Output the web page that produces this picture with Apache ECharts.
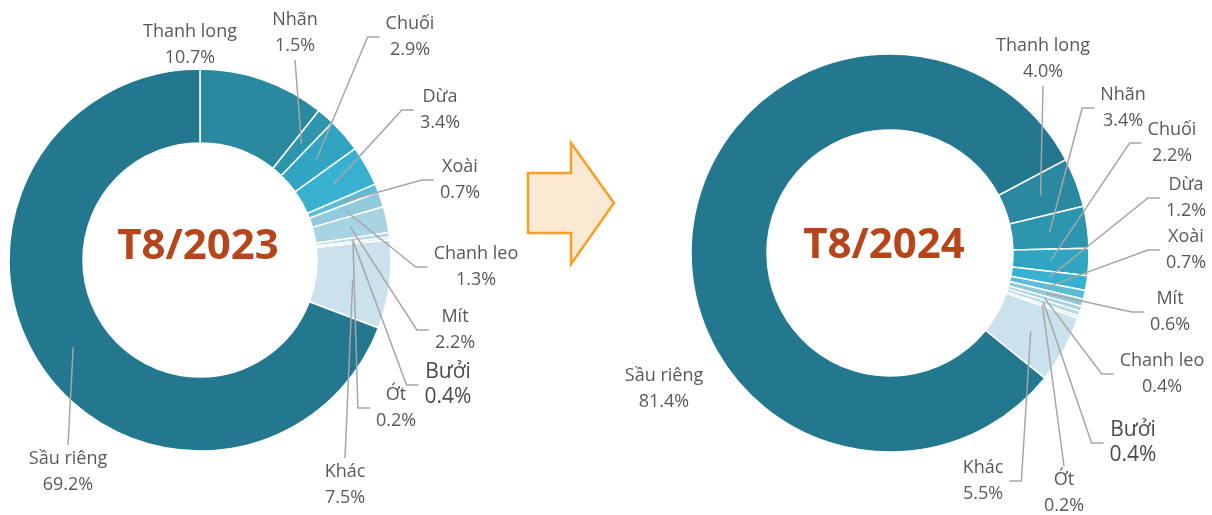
<!DOCTYPE html>
<html>
<head>
<meta charset="utf-8">
<script src="https://cdn.jsdelivr.net/npm/echarts@6/dist/echarts.min.js"></script>
<style>
  html, body { margin: 0; padding: 0; background: #fff; }
  #chart { width: 1212px; height: 515px; }
</style>
</head>
<body>
<div id="chart"></div>
<script>
// share of fruit & vegetable exports by product, Aug 2023 vs Aug 2024 (%)
const names2023 = ['Thanh long', 'Nhãn', 'Chuối', 'Dừa', 'Xoài', 'Chanh leo', 'Mít', 'Bưởi', 'Ớt', 'Khác', 'Sầu riêng'];
const values2023 = [10.7, 1.5, 2.9, 3.4, 0.7, 1.3, 2.2, 0.4, 0.2, 7.5, 69.2];
const names2024 = ['Thanh long', 'Nhãn', 'Chuối', 'Dừa', 'Xoài', 'Mít', 'Chanh leo', 'Bưởi', 'Ớt', 'Khác', 'Sầu riêng'];
const values2024 = [4.0, 3.4, 2.2, 1.2, 0.7, 0.6, 0.4, 0.4, 0.2, 5.5, 81.4];
const titles = ['T8/2023', 'T8/2024'];

const sliceColors = ['#2a88a0', '#2d95ae', '#31a4c2', '#37b1cf', '#5bbcd7', '#93c9dc', '#a8d3e3', '#b6dae7', '#c0dfea', '#cbe2ec', '#237890'];
const FONT = '"Open Sans", "Noto Sans", sans-serif';

// label centres, placed by hand like in the source chart
const labelPos2023 = [[190, 45], [295, 33], [410, 37], [440, 110], [460, 180], [476, 267], [455, 330], [448, 385], [396, 408], [345, 485], [68, 472]];
const labelPos2024 = [[1043, 59], [1123, 108], [1172, 143], [1186, 198], [1186, 250], [1170, 312], [1162, 374], [1133, 443], [1064, 493], [983, 481], [664, 389]];

// leader lines get collected while the labels are laid out
const leaders = [[], []];

function donut(idx, names, values, center, radius, startAngle, labelPos, noLine) {
    const total = values.reduce((a, b) => a + b, 0);
    const data = names.map((name, i) => {
        const item = { name: name, value: values[i], itemStyle: { color: sliceColors[i] } };
        if (name === 'Bưởi') item.label = { fontSize: 21, lineHeight: 25, color: '#4a4a4a' };
        return item;
    });

    return {
        type: 'pie',
        center: center,
        radius: radius,
        startAngle: startAngle,
        clockwise: true,
        avoidLabelOverlap: false,
        silent: true,
        itemStyle: { borderColor: '#fff', borderWidth: 1.5 },
        label: {
            position: 'outside',
            fontFamily: FONT,
            fontSize: 18,
            lineHeight: 26,
            color: '#595959',
            align: 'center',
            formatter: p => p.name + '\n' + p.value.toFixed(1) + '%'
        },
        labelLine: { show: false },
        labelLayout: params => {
            const i = params.dataIndex;
            const lx = labelPos[i][0], ly = labelPos[i][1];
            const w = params.labelRect.width, h = params.labelRect.height;

            // leader line ends in the middle of the slice (like Excel does)
            let before = 0;
            for (let k = 0; k < i; k++) before += values[k];
            const mid = (startAngle - (before + values[i] / 2) / total * 360) * Math.PI / 180;
            const r = (radius[0] + radius[1]) / 2;
            const ax = center[0] + r * Math.cos(mid);
            const ay = center[1] - r * Math.sin(mid);

            let pts = null;
            if (!noLine.includes(names[i])) {
                if (Math.abs(ax - lx) <= w / 2 + 8) {
                    const ey = ay < ly ? ly - h / 2 - 1 : ly + h / 2 + 1;
                    pts = [[lx, ey], [ax, ay]];
                } else {
                    const dir = ax < lx ? -1 : 1;
                    const ex = lx + dir * (w / 2 + 6);
                    pts = [[ex, ly], [ex + dir * 12, ly], [ax, ay]];
                }
            }
            leaders[idx][i] = pts;
            return { x: lx, y: ly, align: 'center', verticalAlign: 'middle' };
        },
        data: data
    };
}

const chart = echarts.init(document.getElementById('chart'), null, { renderer: 'canvas' });

const titleStyle = { font: 'bold 42px ' + FONT, fill: '#b5461b', textAlign: 'center', textVerticalAlign: 'middle' };
const baseGraphic = [
    { type: 'text', x: 198, y: 247, z: 20, style: Object.assign({ text: titles[0] }, titleStyle) },
    { type: 'text', x: 884, y: 246, z: 20, style: Object.assign({ text: titles[1] }, titleStyle) },
    {
        // arrow between the two months
        type: 'polygon', z: 20,
        shape: { points: [[528, 173], [571, 173], [571, 143], [614, 203], [571, 264], [571, 233], [528, 233]] },
        style: { fill: '#fbe9d3', stroke: '#f3a024', lineWidth: 2.5 }
    }
];

chart.setOption({
    animation: false,
    backgroundColor: '#fff',
    series: [
        donut(0, names2023, values2023, [200, 260], [117, 191], 90, labelPos2023, ['Thanh long']),
        donut(1, names2024, values2024, [890, 253], [123, 199], 28, labelPos2024, ['Sầu riêng'])
    ],
    graphic: baseGraphic
});

// second pass: add the leader lines computed during label layout
const lineEls = [];
leaders.forEach(list => list.forEach(pts => {
    if (pts) {
        lineEls.push({
            type: 'polyline', z: 15, silent: true,
            shape: { points: pts },
            style: { stroke: '#a6a6a6', lineWidth: 1.5, fill: null }
        });
    }
}));
chart.setOption({ graphic: baseGraphic.concat(lineEls) }, { replaceMerge: ['graphic'] });
</script>
</body>
</html>
